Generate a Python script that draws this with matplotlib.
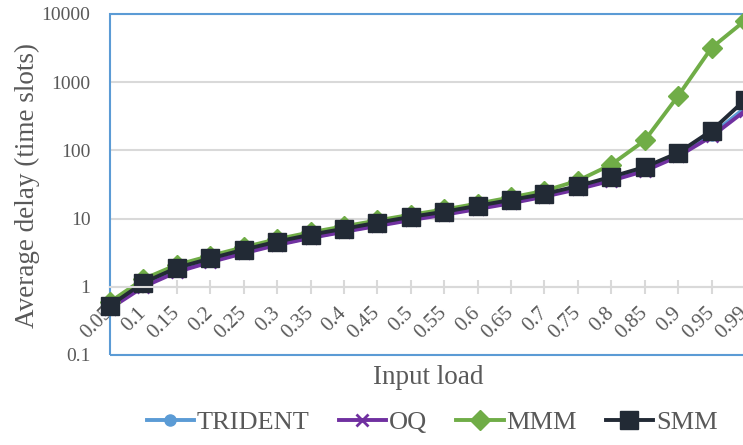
import numpy as np
import matplotlib.pyplot as plt
from matplotlib.patches import Rectangle
from matplotlib.ticker import FixedLocator

# 輸入負載（類別軸）
loads = ['0.05', '0.1', '0.15', '0.2', '0.25', '0.3', '0.35', '0.4', '0.45', '0.5',
         '0.55', '0.6', '0.65', '0.7', '0.75', '0.8', '0.85', '0.9', '0.95', '0.99']

# 平均延遲 (time slots)
trident = [0.5, 1.05, 1.7, 2.35, 3.2, 4.2, 5.3, 6.5, 8.0, 9.7,
           11.6, 14.2, 17.3, 21.5, 28, 37, 52, 85, 170, 420]
oq = [0.48, 1.0, 1.65, 2.3, 3.1, 4.1, 5.2, 6.4, 7.8, 9.5,
      11.4, 13.8, 16.8, 21, 27, 36, 50, 82, 160, 380]
mmm = [0.6, 1.3, 2.1, 2.85, 3.8, 5.0, 6.3, 7.7, 9.4, 11.4,
       13.6, 16.6, 20.5, 25.5, 36, 62, 140, 630, 3200, 8000]
smm = [0.53, 1.15, 1.9, 2.6, 3.5, 4.6, 5.8, 7.1, 8.7, 10.6,
       12.6, 15.4, 18.8, 23, 30, 41, 57, 92, 195, 550]

ytick_vals = [0.1, 1, 10, 100, 1000, 10000]
ytick_labels = ['0.1', '1', '10', '100', '1000', '10000']

plt.rcParams['font.family'] = ['Liberation Serif', 'DejaVu Serif']
text_color = '#595959'

fig = plt.figure(figsize=(7.43, 4.45), dpi=100)
ax = fig.add_axes([110 / 743, 1 - 355 / 445, 635 / 743, 341 / 445])

x = np.arange(len(loads))

series = [
    ('TRIDENT', trident, '#5B9BD5', 'o', 8),
    ('OQ', oq, '#7030A0', 'x', 9),
    ('MMM', mmm, '#70AD47', 'D', 10),
    ('SMM', smm, '#222A35', 's', 13),
]
for name, vals, color, marker, ms in series:
    ax.plot(x, vals, color=color, lw=2.8, marker=marker, markersize=ms,
            markeredgewidth=2 if marker == 'x' else 1, label=name, clip_on=False)

ax.set_yscale('log')
ax.set_ylim(0.1, 10000)
ax.set_xlim(0, len(loads) - 1)

ax.yaxis.set_major_locator(FixedLocator(ytick_vals))
ax.yaxis.set_minor_locator(FixedLocator([]))
ax.set_yticklabels(ytick_labels)
ax.tick_params(axis='y', length=0, pad=14, labelsize=14, labelcolor=text_color)
ax.yaxis.grid(True, color='#D9D9D9', lw=1.5)
ax.set_axisbelow(True)

# 類別軸畫在 y=1 的位置
for s in ['top', 'left', 'right']:
    ax.spines[s].set_visible(False)
ax.spines['bottom'].set_position(('data', 1))
ax.spines['bottom'].set_color('#D9D9D9')
ax.spines['bottom'].set_linewidth(1.5)
ax.set_xticks(x)
ax.set_xticklabels(loads, rotation=45, ha='right', va='center', rotation_mode='anchor')
ax.tick_params(axis='x', direction='inout', length=10, width=1.5, color='#D9D9D9',
               labelsize=15, labelcolor=text_color, pad=12)

# 繪圖區外框
ax.add_patch(Rectangle((0, 0), 1, 1, transform=ax.transAxes, fill=False,
                       edgecolor='#5B9BD5', lw=1.5, clip_on=False, zorder=1))

fig.text(27 / 743, 1 - 185 / 445, 'Average delay (time slots)', rotation=90,
         ha='center', va='center', fontsize=19.5, color=text_color)
fig.text(428 / 743, 1 - 377 / 445, 'Input load', ha='center', va='center',
         fontsize=19.5, color=text_color)

leg = fig.legend(loc='center', bbox_to_anchor=(432 / 743, 1 - 422 / 445), ncol=4,
                 frameon=False, fontsize=19, handlelength=1.8, columnspacing=1.1,
                 handletextpad=0.1)
for t in leg.get_texts():
    t.set_color(text_color)

plt.savefig('out.png', dpi=100)
